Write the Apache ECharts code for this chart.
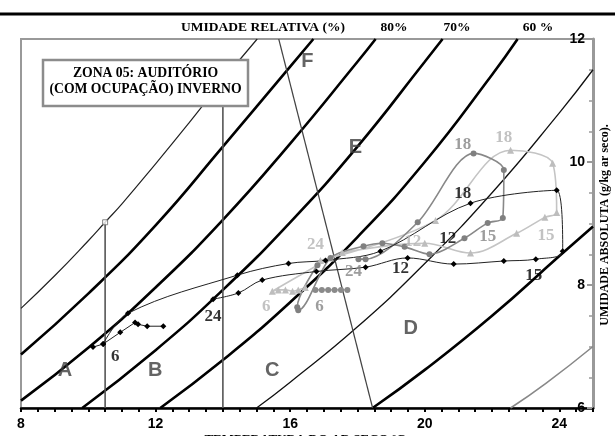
<!DOCTYPE html>
<html><head><meta charset="utf-8">
<script src="https://cdn.jsdelivr.net/npm/echarts@6/dist/echarts.min.js"></script>
<style>html,body{margin:0;padding:0;background:#fff}#c{width:615px;height:436px}</style>
</head><body><div id="c"></div><script>
// ---- axis ticks ----
const xTicks = [8, 12, 16, 20, 24];
const yTicks = [6, 8, 10, 12];
// ---- relative humidity curves [T, w] ----
const rh100 = [[8,7.62],[9,8.15],[10,8.72],[10.5,9.02],[11,9.32],[12,9.97],[13,10.64],[14,11.33],[15.02,12.0]];
const rh90  = [[8,6.87],[10,7.86],[12,8.97],[14,10.25],[16,11.55],[16.69,12.0]];
const rh80  = [[8,6.12],[10,6.98],[12,7.96],[14,9.06],[16,10.3],[18,11.63],[18.54,12.0]];
const rh70  = [[9.82,6.0],[12,6.94],[14,7.92],[16,9.02],[18,10.25],[20,11.63],[20.53,12.0]];
const rh60  = [[12.14,6.0],[14,6.78],[16,7.72],[18,8.78],[20,10.0],[22,11.42],[22.76,12.0]];
const rh50  = [[15,6.0],[16,6.42],[18,7.32],[20,8.35],[22,9.5],[24,10.8],[25,11.5]];
const rh40  = [[18.45,6.0],[20,6.62],[22,7.5],[24,8.47],[25,8.95]];
const grayLine = [[22.55,6.0],[23.6,6.4],[25,7.0]];
const steepLine = [[15.66,12.0],[18.45,6.0]];
const vLine1 = [[10.5,6.0],[10.5,9.02]];
const vLine2 = [[14.0,6.0],[14.0,10.91]];
// ---- measured daily cycles [T, w] ----
const blackA = [[10.14,6.99],[10.44,7.04],[10.95,7.23],[11.39,7.39],[11.48,7.36],[11.75,7.33],[12.23,7.33]];
const blackB = [[10.44,7.04],[11.18,7.54],[14.43,8.16],[15.95,8.35],[17.05,8.40],[18.68,8.55],[21.36,9.33],[23.92,9.54],[24.10,8.55],[23.30,8.42],[22.35,8.39],[20.86,8.34],[19.49,8.44],[18.24,8.29],[16.78,8.22],[15.17,8.08],[14.46,7.87],[13.71,7.77]];
const darkLoop = [[16.81,8.32],[16.21,7.64],[16.24,7.59],[17.20,8.44],[18.18,8.63],[18.74,8.68],[19.40,8.62],[20.14,8.50],[21.18,8.76],[21.87,9.01],[22.32,9.09],[22.35,9.87],[21.45,10.14],[19.79,9.02],[18.24,8.42],[18.03,8.42]];
const darkRow = [[16.75,7.92],[16.94,7.92],[17.13,7.92],[17.32,7.92],[17.51,7.92],[17.70,7.92]];
const lightLoop = [[16.45,7.96],[16.24,7.92],[16.07,7.90],[15.86,7.92],[15.65,7.92],[15.47,7.90],[17.20,8.44],[17.55,8.53],[20.0,8.68],[21.36,8.52],[22.73,8.84],[23.57,9.10],[23.92,9.18],[23.80,9.98],[22.55,10.19],[20.32,9.05],[16.90,8.40]];
// ---- hour labels [T, w, text] ----
const hoursBlack = [[10.80,6.83,'6'],[13.71,7.48,'24'],[19.28,8.27,'12'],[20.68,8.76,'12'],[21.13,9.49,'18'],[23.24,8.16,'15']];
const hoursDark = [[21.13,10.28,'18'],[21.87,8.78,'15'],[16.87,7.65,'6'],[17.88,8.21,'24']];
const hoursLight = [[22.35,10.39,'18'],[23.60,8.81,'15'],[19.64,8.70,'12'],[15.29,7.65,'6'],[16.75,8.65,'24']];
const zones = [[9.31,6.61,'A'],[11.99,6.61,'B'],[15.47,6.61,'C'],[19.58,7.30,'D'],[17.94,10.23,'E'],[16.51,11.63,'F']];
const rhTopLabels = ['UMIDADE RELATIVA (%)','80%','70%','60 %'];

const SERIF = '"Liberation Serif","Times New Roman",serif';
const SANS = '"Liberation Sans",Arial,sans-serif';

function curve(data, color, width, smooth){
  return {type:'line', data, smooth: smooth, symbol:'none', silent:true, z:1,
    lineStyle:{color, width}};
}
function cycle(data, color, lineColor, width, symbol, size, smooth){
  return {type:'line', data, smooth, symbol, symbolSize:size, showSymbol:true, silent:true, z:4,
    itemStyle:{color, borderWidth:0}, lineStyle:{color:lineColor, width}};
}
function labels(items, color, font, size, weight){
  return {type:'scatter', data: items.map(d=>[d[0],d[1],d[2]]), symbolSize:1, silent:true, z:8,
    itemStyle:{color:'rgba(0,0,0,0)'},
    label:{show:true, position:'inside', formatter:p=>p.data[2], color, fontFamily:font, fontSize:size, fontWeight:weight}};
}

const chart = echarts.init(document.getElementById('c'), null, {renderer:'canvas'});
chart.setOption({
  animation:false,
  backgroundColor:'#fff',
  grid:{left:21, right:22, top:39, bottom:28, show:true, borderColor:'#999', borderWidth:2, backgroundColor:'transparent'},
  xAxis:{type:'value', min:8, max:25, interval:4,
    axisLine:{show:true, lineStyle:{color:'#000', width:2.5}},
    axisTick:{show:true, inside:false, length:4, lineStyle:{color:'#000', width:2}},
    minorTick:{show:true, splitNumber:8, length:4, lineStyle:{color:'#000', width:2}},
    splitLine:{show:false},
    axisLabel:{margin:9, color:'#000', fontFamily:SANS, fontWeight:'bold', fontSize:14,
      formatter:v=> xTicks.includes(v) ? String(v) : ''}
  },
  yAxis:{type:'value', position:'right', min:6, max:12, interval:2,
    axisLine:{show:true, lineStyle:{color:'#999', width:3}},
    axisTick:{show:true, inside:true, length:6, lineStyle:{color:'#999', width:2}},
    minorTick:{show:true, splitNumber:4, length:4, lineStyle:{color:'#999', width:1.5}},
    splitLine:{show:false},
    axisLabel:{inside:true, margin:8, color:'#000', fontFamily:SANS, fontWeight:'bold', fontSize:14,
      showMinLabel:true, showMaxLabel:true,
      formatter:v=> yTicks.includes(v) ? String(v) : ''}
  },
  series:[
    curve(rh100,'#222',1.2,true),
    curve(rh90,'#000',2.6,true),
    curve(rh80,'#000',2.6,true),
    curve(rh70,'#000',2.6,true),
    curve(rh60,'#000',2.6,true),
    curve(rh50,'#111',1.3,true),
    curve(rh40,'#000',2.6,true),
    curve(grayLine,'#888',1.6,true),
    curve(steepLine,'#444',1.2,false),
    curve(vLine1,'#555',1.6,false),
    curve(vLine2,'#555',1.6,false),
    {type:'scatter', data:[vLine1[1]], symbol:'rect', symbolSize:5, silent:true, z:5,
      itemStyle:{color:'#fff', borderColor:'#666', borderWidth:1}},
    cycle(lightLoop,'#bdbdbd','#c4c4c4',1.6,'triangle',7,0.35),
    cycle(darkRow,'#8a8a8a','#8a8a8a',1.3,'circle',6,false),
    cycle(darkLoop,'#808080','#888',1.6,'circle',6,0.3),
    cycle(blackA,'#000','#222',1,'diamond',6,false),
    cycle(blackB,'#000','#222',1,'diamond',6,0.35),
    labels(hoursLight,'#b3b3b3',SERIF,17,'bold'),
    labels(hoursDark,'#858585',SERIF,17,'bold'),
    labels(hoursBlack,'#000',SERIF,17,'bold'),
    labels(zones,'#3d3d3d',SANS,20,900)
  ],
  graphic:[
    {type:'line', shape:{x1:0,y1:14,x2:615,y2:14}, style:{stroke:'#000', lineWidth:3}, z:100},
    {type:'rect', shape:{x:43,y:60,width:205,height:46}, style:{fill:'#fff', stroke:'#8c8c8c', lineWidth:2.5}, z:100},
    {type:'text', x:145.5, y:73, z:101, style:{text:'ZONA 05: AUDITÓRIO', font:'bold 13.7px '+SERIF, fill:'#000', align:'center', verticalAlign:'middle'}},
    {type:'text', x:145.5, y:89, z:101, style:{text:'(COM OCUPAÇÃO) INVERNO', font:'bold 13.7px '+SERIF, fill:'#000', align:'center', verticalAlign:'middle'}},
    {type:'text', x:263, y:28, z:101, style:{text:rhTopLabels[0], font:'bold 13.5px '+SERIF, fill:'#000', align:'center', verticalAlign:'middle'}},
    {type:'text', x:394, y:28, z:101, style:{text:rhTopLabels[1], font:'bold 13.5px '+SERIF, fill:'#000', align:'center', verticalAlign:'middle'}},
    {type:'text', x:457, y:28, z:101, style:{text:rhTopLabels[2], font:'bold 13.5px '+SERIF, fill:'#000', align:'center', verticalAlign:'middle'}},
    {type:'text', x:538, y:28, z:101, style:{text:rhTopLabels[3], font:'bold 13.5px '+SERIF, fill:'#000', align:'center', verticalAlign:'middle'}},
    {type:'text', x:605, y:225, rotation:Math.PI/2, z:101, style:{text:'UMIDADE ABSOLUTA (g/kg ar seco).', font:'bold 12px '+SERIF, fill:'#000', align:'center', verticalAlign:'middle'}},
    {type:'text', x:305, y:433, z:101, style:{text:'TEMPERATURA DO AR SECO ºC', font:'bold 13px '+SERIF, fill:'#000', align:'center', verticalAlign:'top'}}
  ]
});
</script></body></html>
